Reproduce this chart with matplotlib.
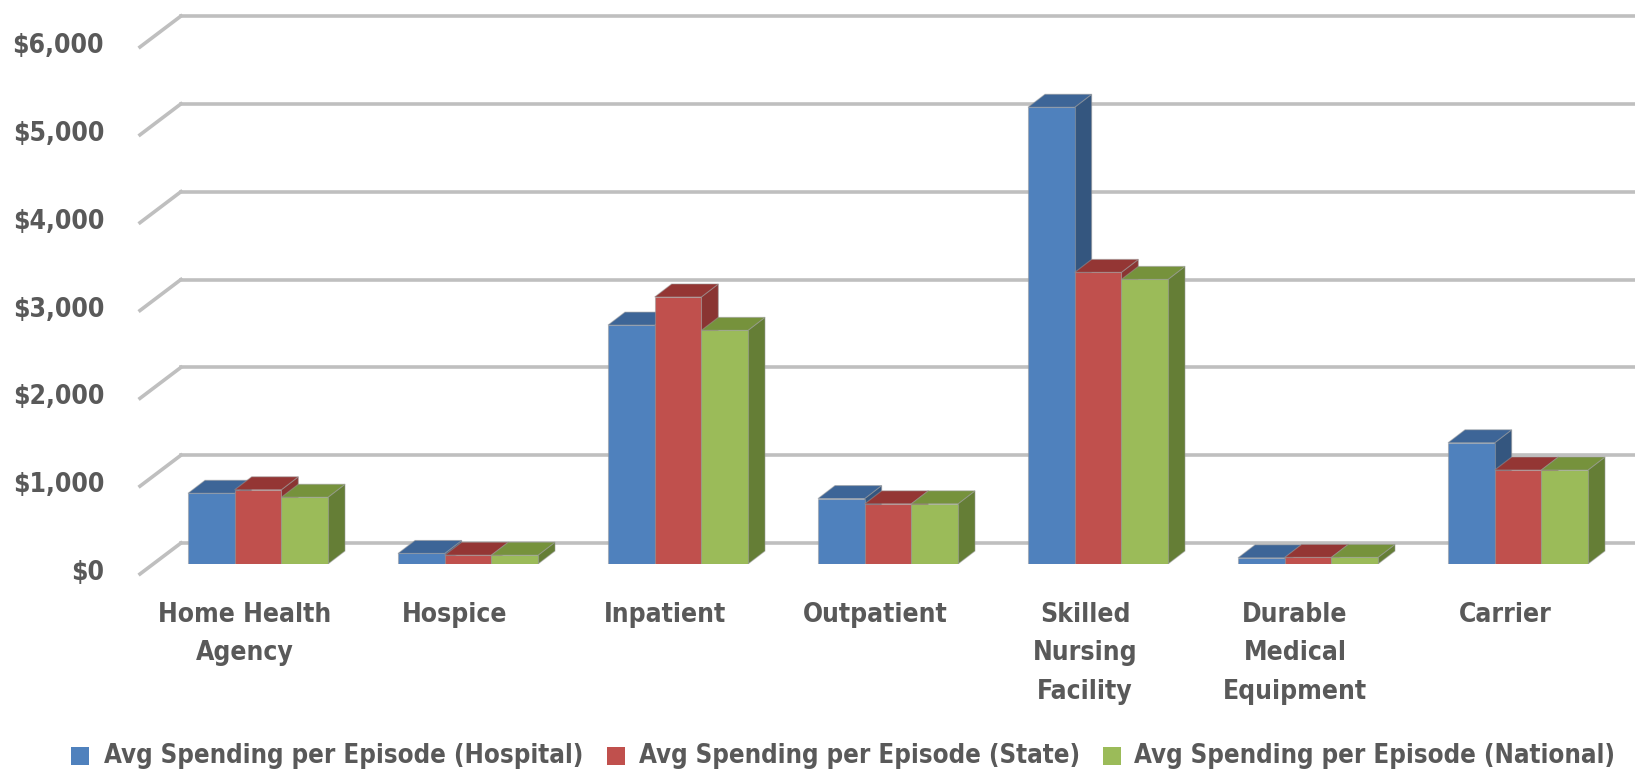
import matplotlib
matplotlib.use("Agg")
import matplotlib.pyplot as plt
from matplotlib.patches import Polygon, Rectangle
from matplotlib.transforms import Affine2D
from matplotlib import font_manager

categories = ["Home Health\nAgency", "Hospice", "Inpatient", "Outpatient",
              "Skilled\nNursing\nFacility", "Durable\nMedical\nEquipment", "Carrier"]
hospital = [805, 120, 2720, 745, 5200, 70, 1380]
state = [845, 100, 3040, 685, 3320, 75, 1070]
national = [760, 100, 2660, 685, 3240, 75, 1070]
series_names = ["Avg Spending per Episode (Hospital)",
                "Avg Spending per Episode (State)",
                "Avg Spending per Episode (National)"]
yticks = [0, 1000, 2000, 3000, 4000, 5000, 6000]

# front / side / top colours for each series
front_cols = ["#4F81BD", "#C0504D", "#9BBB59"]
side_cols = ["#34567F", "#8A3432", "#657E36"]
top_cols = ["#3D6597", "#943634", "#76923C"]

# look for a narrow font first, otherwise plain Liberation Sans
narrow = [f for f in font_manager.fontManager.ttflist
          if ("narrow" in f.fname.lower() or "condensed" in f.fname.lower())
          and "bold" in f.fname.lower()]
if narrow:
    FP = dict(fontproperties=font_manager.FontProperties(fname=narrow[0].fname, size=19))
    FP_LEG = dict(fontproperties=font_manager.FontProperties(fname=narrow[0].fname, size=18.5))
else:
    FP = dict(family="Liberation Sans", fontweight="bold", fontsize=20.5)
    FP_LEG = dict(family="Liberation Sans", fontweight="bold", fontsize=20)
TXT = "#595959"

W, H = 1635, 777
fig = plt.figure(figsize=(W / 100, H / 100), dpi=100)
ax = fig.add_axes([153 / W, 213 / H, (1623 - 153) / W, 527 / H])
ax.set_xlim(-0.5, 6.5)
ax.set_ylim(0, 6000)
ax.axis("off")

# plane offsets in pixels relative to the bar front plane
back = Affine2D().translate(28, 21)
front = Affine2D().translate(-13, -10)
depth = (17, 13)

for v in yticks:
    ax.plot([-0.5, 6.5], [v, v], color="#BFBFBF", lw=2.6,
            transform=ax.transData + back, zorder=1, clip_on=False)
    p0 = (ax.transData + front).transform((-0.5, v))
    p1 = (ax.transData + back).transform((-0.5, v))
    fig.add_artist(plt.Line2D([p0[0] / W, p1[0] / W], [p0[1] / H, p1[1] / H],
                              color="#BFBFBF", lw=2.6, transform=fig.transFigure))
    fig.text((p0[0] - 36) / W, (p0[1] + 1) / H, "${:,}".format(v), ha="right", va="center",
             color=TXT, **FP)

group_w = 2 / 3
bar_w = group_w / 3
fig.canvas.draw()
td = ax.transData
for i in range(len(categories)):
    for s, vals in enumerate([hospital, state, national]):
        x0 = i - group_w / 2 + s * bar_w
        x1 = x0 + bar_w
        h = vals[i]
        (ax0, ay0), (ax1, ay1) = td.transform([(x0, 0), (x1, h)])
        dx, dy = depth
        ec = (0.6, 0.6, 0.6, 0.5)
        side = [(ax1, ay0), (ax1 + dx, ay0 + dy), (ax1 + dx, ay1 + dy), (ax1, ay1)]
        top = [(ax0, ay1), (ax1, ay1), (ax1 + dx, ay1 + dy), (ax0 + dx, ay1 + dy)]
        frontf = [(ax0, ay0), (ax1, ay0), (ax1, ay1), (ax0, ay1)]
        for pts, col in [(side, side_cols[s]), (top, top_cols[s]), (frontf, front_cols[s])]:
            ax.add_patch(Polygon(pts, closed=True, facecolor=col, edgecolor=ec,
                                 lw=0.8, transform=None, zorder=3))

lab_tr = ax.transData + Affine2D().translate(-13, -38)
for i, c in enumerate(categories):
    ax.text(i, 0, c, ha="center", va="top", transform=lab_tr,
            color=TXT, linespacing=1.62, **FP)

# legend
sq = [71, 607, 1103]
tx = [104, 639, 1134]
for s in range(3):
    fig.add_artist(Rectangle((sq[s] / W, 12 / H), 18 / W, 18 / H, facecolor=front_cols[s],
                             edgecolor="none", transform=fig.transFigure))
    fig.text(tx[s] / W, 21 / H, series_names[s], ha="left", va="center",
             color=TXT, **FP_LEG)

fig.savefig("out.png", dpi=100, facecolor="white")
